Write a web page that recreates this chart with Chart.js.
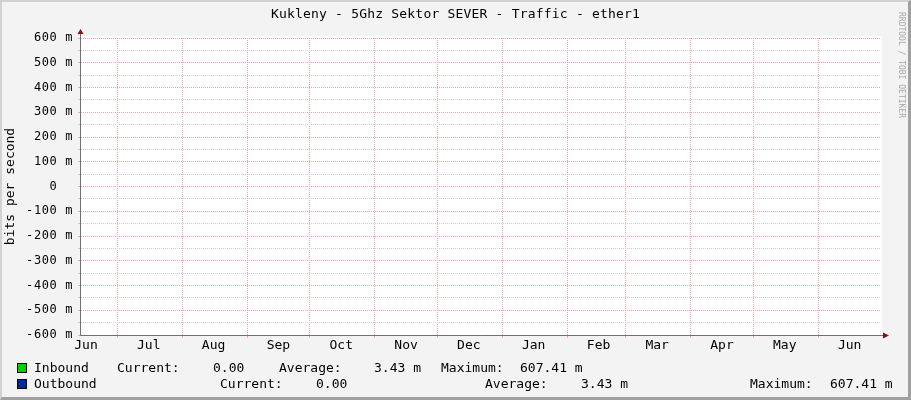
<!DOCTYPE html>
<html>
<head>
<meta charset="utf-8">
<script src="https://cdn.jsdelivr.net/npm/chart.js@4.4.1/dist/chart.umd.min.js"></script>
<style>
html,body{margin:0;padding:0;}
body{width:911px;height:400px;overflow:hidden;background:#f3f3f3;}
#wrap{position:absolute;left:0;top:0;width:911px;height:400px;}
#frame{position:absolute;left:0;top:0;width:911px;height:400px;box-sizing:border-box;border-left:2px solid #d2d2d2;border-top:2px solid #d2d2d2;border-right:3px solid #a0a0a0;border-bottom:3px solid #a0a0a0;pointer-events:none;}
.t{position:absolute;font-family:"DejaVu Sans Mono",monospace;font-size:13px;color:#000;white-space:pre;line-height:16px;}
.box{position:absolute;width:8px;height:8px;border:1px solid #000;}
#wm{position:absolute;left:896px;top:12px;font-family:"DejaVu Sans Mono",monospace;font-size:8px;line-height:10px;color:#a8a8a8;white-space:pre;transform-origin:0 0;transform:translate(10px,0) rotate(90deg);}
</style>
</head>
<body>
<div id="wrap"><canvas id="c"></canvas></div>
<div class="t" id="title" style="left:0;top:6px;width:911px;text-align:center;letter-spacing:0.2px;"></div>
<div id="wm"></div>
<div id="legend"></div>
<div id="frame"></div>
<script>
// ---- data ----
const chartTitle = 'Kukleny - 5Ghz Sektor SEVER - Traffic - ether1';
const yAxisTitle = 'bits per second';
const monthLabels = ['Jun','Jul','Aug','Sep','Oct','Nov','Dec','Jan','Feb','Mar','Apr','May','Jun'];
const monthStarts = ['2014-06-01','2014-07-01','2014-08-01','2014-09-01','2014-10-01','2014-11-01','2014-12-01','2015-01-01','2015-02-01','2015-03-01','2015-04-01','2015-05-01','2015-06-01'];
const rangeStart = '2014-06-13T15:00:00Z';
const rangeEnd = '2015-07-01T00:00:00Z';
const yMin = -600, yMax = 600, yStep = 50, yMajor = 100;
// no data is drawn in the picture (unknown values)
const inboundValues = [null,null,null,null,null,null,null,null,null,null,null,null,null];
const outboundValues = [null,null,null,null,null,null,null,null,null,null,null,null,null];
const seriesNames = ['Inbound','Outbound'];
const seriesColors = ['#00cf00','#002a97'];
const inboundStats = ['Current:','0.00','Average:','3.43 m','Maximum:','607.41 m'];
const outboundStats = ['Current:','0.00','Average:','3.43 m','Maximum:','607.41 m'];
const watermark = 'RRDTOOL / TOBI OETIKER';

// ---- helpers ----
const DAY = 86400000;
const toDay = s => Date.parse(s.length === 10 ? s + 'T00:00:00Z' : s) / DAY;
const boundaryDays = monthStarts.slice(1).map(toDay);
const labelDays = monthStarts.map(s => toDay(s) + 15);
const labelMap = new Map(labelDays.map((d, i) => [d, monthLabels[i]]));
const boundarySet = new Set(boundaryDays);

const RED = '#f3a6a6', GREY = '#cfcfcf';

// ---- html text ----
document.getElementById('title').textContent = chartTitle;
document.getElementById('wm').textContent = watermark;
const legend = document.getElementById('legend');
function addText(txt, x, y){ const d=document.createElement('div'); d.className='t'; d.style.left=x+'px'; d.style.top=y+'px'; d.textContent=txt; legend.appendChild(d); }
function addBox(color, x, y){ const d=document.createElement('div'); d.className='box'; d.style.left=x+'px'; d.style.top=y+'px'; d.style.background=color; legend.appendChild(d); }
addBox(seriesColors[0], 17, 363);
addBox(seriesColors[1], 17, 379);
addText(seriesNames[0], 34, 360);
[117,213,279,374,441,520].forEach((x,i)=>addText(inboundStats[i], x, 360));
addText(seriesNames[1], 34, 376);
[220,316,485,581,750,830].forEach((x,i)=>addText(outboundStats[i], x, 376));

// ---- chart ----
const plotDeco = {
  id:'plotDeco',
  beforeDraw(chart){
    const {ctx, chartArea:a} = chart;
    ctx.save();
    ctx.fillStyle = '#ffffff';
    ctx.fillRect(a.left, a.top - 2, a.right - a.left + 1, a.bottom - a.top + 2);
    ctx.restore();
  },
  afterDraw(chart){
    const {ctx, chartArea:a} = chart;
    const ax = a.left - 0.5;
    const ay = Math.round(a.bottom - 0.5) + 0.5;
    ctx.save();
    ctx.strokeStyle = '#707070';
    ctx.lineWidth = 1;
    ctx.beginPath();
    ctx.moveTo(ax, ay); ctx.lineTo(ax, a.top - 4);
    ctx.moveTo(ax, ay); ctx.lineTo(a.right + 2, ay);
    ctx.stroke();
    ctx.fillStyle = '#8b1010';
    ctx.beginPath();
    ctx.moveTo(ax, a.top - 9); ctx.lineTo(ax - 3, a.top - 4); ctx.lineTo(ax + 3, a.top - 4); ctx.closePath(); ctx.fill();
    ctx.beginPath();
    ctx.moveTo(a.right + 8, ay); ctx.lineTo(a.right + 2, ay - 3); ctx.lineTo(a.right + 2, ay + 3); ctx.closePath(); ctx.fill();
    ctx.restore();
  }
};

Chart.defaults.font.family = '"DejaVu Sans Mono", monospace';
Chart.defaults.font.size = 13;
Chart.defaults.color = '#000';

new Chart(document.getElementById('c'), {
  type: 'line',
  data: {
    datasets: [
      { label: seriesNames[0], data: labelDays.map((d,i)=>({x:d, y:inboundValues[i]})), borderColor: seriesColors[0], backgroundColor: seriesColors[0], fill: 'origin', pointRadius: 0, borderWidth: 1 },
      { label: seriesNames[1], data: labelDays.map((d,i)=>({x:d, y:outboundValues[i]})), borderColor: seriesColors[1], pointRadius: 0, borderWidth: 1 }
    ]
  },
  options: {
    responsive: true,
    maintainAspectRatio: false,
    animation: false,
    events: [],
    layout: { padding: { left: 0, top: 38, right: 30, bottom: 40 } },
    plugins: { legend: { display: false }, tooltip: { enabled: false }, title: { display: false } },
    scales: {
      x: {
        type: 'linear',
        min: toDay(rangeStart),
        max: toDay(rangeEnd),
        afterBuildTicks(scale){
          scale.ticks = boundaryDays.concat(labelDays).sort((a,b)=>a-b).map(v=>({value:v}));
        },
        afterFit(scale){ scale.height = 25; },
        grid: {
          color: ctx => (ctx.tick && boundarySet.has(ctx.tick.value)) ? RED : 'rgba(0,0,0,0)',
          lineWidth: 1,
          tickLength: 3,
          drawTicks: true
        },
        border: { display: false, dash: [1,1] },
        ticks: {
          autoSkip: false, maxRotation: 0, minRotation: 0, padding: 0,
          font: { size: 13 },
          callback: v => labelMap.has(v) ? labelMap.get(v) : ''
        }
      },
      y: {
        type: 'linear',
        min: yMin, max: yMax,
        afterFit(scale){
          scale.width = 81;
          if (!scale._lsWrapped) {
            const orig = scale.drawLabels.bind(scale);
            scale.drawLabels = function(area){
              const c = this.ctx; const prev = c.letterSpacing;
              c.letterSpacing = '0.6px';
              orig(area);
              c.letterSpacing = prev;
            };
            scale._lsWrapped = true;
          }
        },
        grid: {
          color: ctx => (ctx.tick && ctx.tick.value % yMajor === 0) ? RED : GREY,
          lineWidth: 1,
          tickLength: 3
        },
        border: { display: false, dash: [1,1] },
        title: { display: true, text: yAxisTitle, font: { size: 13 }, color: '#000', padding: { top: 3, bottom: 0 } },
        ticks: {
          stepSize: yStep, autoSkip: false, padding: 5,
          font: { size: 12 },
          callback: v => (v % yMajor !== 0) ? '' : (v === 0 ? '0  ' : v + ' m')
        }
      }
    }
  },
  plugins: [plotDeco]
});
</script>
</body>
</html>
